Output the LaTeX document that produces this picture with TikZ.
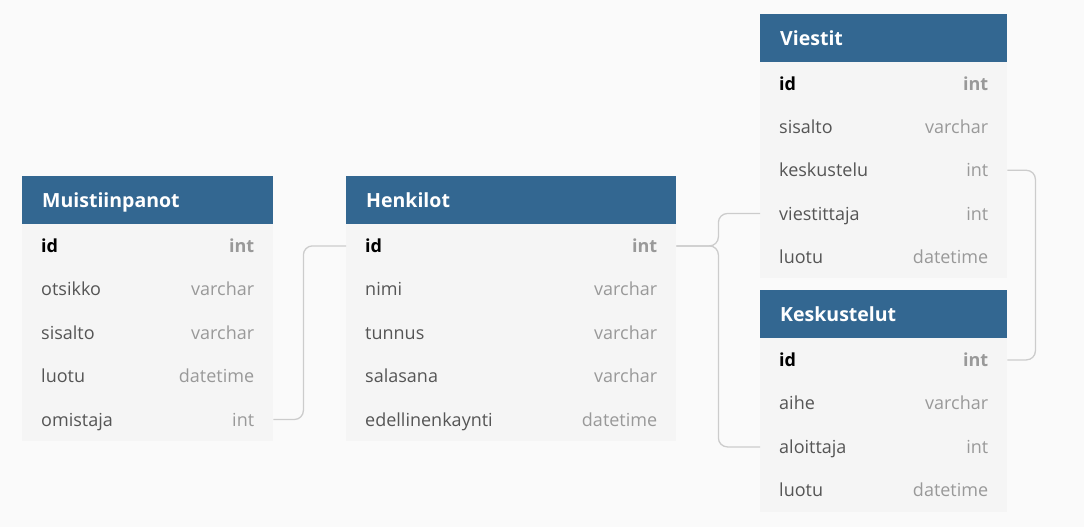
\documentclass[tikz,border=0pt]{standalone}
\usepackage{fontspec}
\setmainfont{Open Sans}
\usepackage{xcolor}
\definecolor{headblue}{HTML}{336791}
\definecolor{rowgray}{HTML}{F5F5F5}
\definecolor{bggray}{HTML}{FAFAFA}
\definecolor{namegray}{HTML}{555555}
\definecolor{typegray}{HTML}{999999}
\definecolor{linegray}{HTML}{CCCCCC}

\begin{document}
\begin{tikzpicture}[x=1pt, y=-1pt]
        % ================= styles =================
        \tikzset{
            % table title bar
            thead/.style={rectangle, fill=headblue, text=white, anchor=north west,
                minimum height=48, inner xsep=20, text height=16, text depth=2,
                font=\bfseries\fontsize{19.5}{23}\selectfont, align=left},
            % one column row
            trow/.style={rectangle, fill=rowgray, anchor=north west,
                minimum height=43.4, inner xsep=19, text height=15, text depth=2,
                font=\fontsize{18}{21}\selectfont, align=left},
            % foreign key line
            link/.style={draw=linegray, line width=1.3, rounded corners=9}
        }

        % background
        \fill[bggray] (0,0) rectangle (1084,527);

        % ================= Muistiinpanot =================
        \begin{scope}[shift={(22,176)}]
            \node[thead, minimum width=251, text width=211] (mui) at (0,0) {Muistiinpanot};
            \node[trow, minimum width=251, text width=213] (mui-1) at (0,48)
                {\textbf{id}\hfill\textcolor{typegray}{\textbf{int}}};
            \foreach \n/\t [count=\k from 2] in {otsikko/varchar, sisalto/varchar, luotu/datetime, omistaja/int} {
                \node[trow, minimum width=251, text width=213] (mui-\k) at (0,{48+43.4*(\k-1)})
                    {\textcolor{namegray}{\n}\hfill\textcolor{typegray}{\t}};
            }
        \end{scope}

        % ================= Henkilot =================
        \begin{scope}[shift={(346,176)}]
            \node[thead, minimum width=330, text width=290] (hen) at (0,0) {Henkilot};
            \node[trow, minimum width=330, text width=292] (hen-1) at (0,48)
                {\textbf{id}\hfill\textcolor{typegray}{\textbf{int}}};
            \foreach \n/\t [count=\k from 2] in {nimi/varchar, tunnus/varchar, salasana/varchar, edellinenkaynti/datetime} {
                \node[trow, minimum width=330, text width=292] (hen-\k) at (0,{48+43.4*(\k-1)})
                    {\textcolor{namegray}{\n}\hfill\textcolor{typegray}{\t}};
            }
        \end{scope}

        % ================= Viestit =================
        \begin{scope}[shift={(760,14)}]
            \node[thead, minimum width=247, text width=207] (vie) at (0,0) {Viestit};
            \node[trow, minimum width=247, text width=209] (vie-1) at (0,48)
                {\textbf{id}\hfill\textcolor{typegray}{\textbf{int}}};
            \foreach \n/\t [count=\k from 2] in {sisalto/varchar, keskustelu/int, viestittaja/int, luotu/datetime} {
                \node[trow, minimum width=247, text width=209] (vie-\k) at (0,{48+43.2*(\k-1)})
                    {\textcolor{namegray}{\n}\hfill\textcolor{typegray}{\t}};
            }
        \end{scope}

        % ================= Keskustelut =================
        \begin{scope}[shift={(760,290)}]
            \node[thead, minimum width=247, text width=207] (kes) at (0,0) {Keskustelut};
            \node[trow, minimum width=247, text width=209] (kes-1) at (0,48)
                {\textbf{id}\hfill\textcolor{typegray}{\textbf{int}}};
            \foreach \n/\t [count=\k from 2] in {aihe/varchar, aloittaja/int, luotu/datetime} {
                \node[trow, minimum width=247, text width=209] (kes-\k) at (0,{48+43.5*(\k-1)})
                    {\textcolor{namegray}{\n}\hfill\textcolor{typegray}{\t}};
            }
        \end{scope}

        % ================= links =================
        \draw[link] (mui-5.east) -- ++(30,0) |- (hen-1.west);
        \draw[link] (hen-1.east) -- ++(42,0) |- (vie-4.west);
        \draw[link] (hen-1.east) -- ++(42,0) |- (kes-3.west);
        \draw[link] (vie-3.east) -- ++(28,0) |- (kes-1.east);

\end{tikzpicture}
\end{document}
